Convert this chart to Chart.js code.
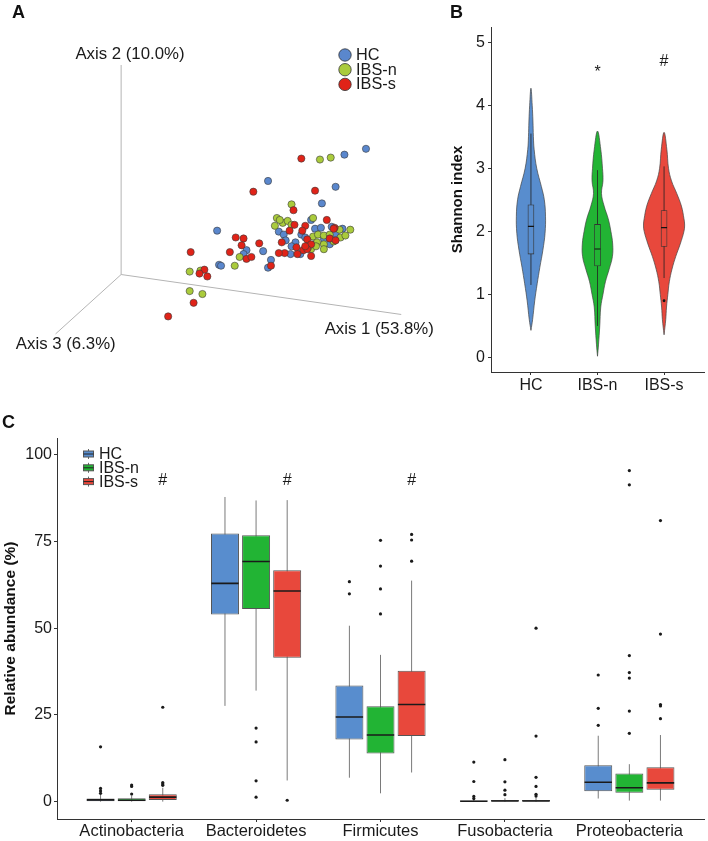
<!DOCTYPE html>
<html>
<head>
<meta charset="utf-8">
<script src="https://cdn.jsdelivr.net/npm/chart.js@4.4.0/dist/chart.umd.min.js"></script>
<style>
  body { margin: 0; background: #fff; }
  #quadro { position: relative; width: 708px; height: 841px; overflow: hidden; font-family: "Liberation Sans", Arial, sans-serif; }
  canvas { position: absolute; }
  .letra { position: absolute; font-weight: bold; font-size: 18px; line-height: 18px; color: #111; }
</style>
</head>
<body>
<div id="quadro">
  <canvas id="pcoa" width="445" height="360" style="left:0;top:0"></canvas>
  <canvas id="shannon" width="318" height="400" style="left:390px;top:0"></canvas>
  <canvas id="filos" width="708" height="441" style="left:0;top:400px"></canvas>
  <div class="letra" style="left:12px;top:3px">A</div>
  <div class="letra" style="left:450px;top:3px">B</div>
  <div class="letra" style="left:2px;top:413px">C</div>
</div>
<script>
Chart.defaults.font.family = '"Liberation Sans", Arial, sans-serif';
Chart.defaults.color = '#1a1a1a';
Chart.defaults.animation = false;

const grupos = ['HC', 'IBS-n', 'IBS-s'];
const coresPCoA = ['#5a87cd', '#aacb3c', '#e02318'];
const cores = ['#588dce', '#22b434', '#e8483c'];

// A - PCoA, coordenadas projetadas (eixo 1 / eixo 2 na tela)
const pcoaHC = [[250,129],[228,123],[150,96],[219,90],[205,73],[194,56],[161,44],[166,41],[184,41],[198,47],
  [204,48],[215,49],[226,47],[168,35],[178,33],[188,38],[219,42],[213,31],[183,21],[173,21],[145,24],[153,15],
  [150,7],[98,45],[128,25],[125,21],[100,10],[102,9],[174,29],[207,37],[197,31]];
const pcoaIBSn = [[203,118],[214,120],[174,72],[159,58],[157,50],[165,53],[170,55],[174,51],[196,58],[196,39],
  [201,41],[207,40],[213,41],[223,46],[234,46],[224,38],[200,33],[207,31],[194,26],[207,26],[121,18],[116,9],
  [70,3],[81,4],[70,-17],[83,-20],[191,28],[217,34],[229,40],[199,29],[162,56]];
const pcoaIBSs = [[184,119],[135,85],[198,86],[176,66],[210,56],[177,51],[172,45],[188,50],[185,45],[218,48],
  [164,33],[190,36],[194,31],[213,37],[219,35],[179,28],[186,25],[190,26],[180,21],[194,19],[167,22],[161,22],
  [153,9],[117,38],[125,37],[123,30],[141,32],[128,16],[133,18],[111,23],[71,23],[85,5],[80,1],[88,-2],[74,-29],
  [48,-43],[217,47],[188,29]];
const eixosNomes = ['Axis 1 (53.8%)', 'Axis 2 (10.0%)', 'Axis 3 (6.3%)'];
const eixosFim = [[286,-41],[0,215],[-67,-61]];

// B - Shannon: violino (valor, meia largura) e caixa
const violinoHC = [[0.43,0],[0.6,0.025],[0.9,0.057],[1.17,0.094],[1.43,0.134],[1.7,0.179],[1.97,0.212],[2.24,0.219],
  [2.5,0.201],[2.71,0.157],[3.0,0.087],[3.3,0.048],[3.5,0.037],[3.75,0.03],[4.0,0.019],[4.27,0]];
const violinoIBSn = [[0.02,0],[0.2,0.015],[0.5,0.034],[0.8,0.049],[1.0,0.082],[1.2,0.119],[1.4,0.175],[1.6,0.224],
  [1.8,0.228],[2.0,0.201],[2.2,0.161],[2.4,0.1],[2.6,0.06],[2.8,0.082],[3.0,0.075],[3.3,0.049],[3.59,0]];
const violinoIBSs = [[0.36,0],[0.6,0.025],[0.8,0.037],[1.0,0.057],[1.2,0.079],[1.4,0.119],[1.6,0.175],[1.8,0.243],
  [2.0,0.299],[2.1,0.309],[2.2,0.299],[2.4,0.261],[2.6,0.191],[2.8,0.112],[3.0,0.067],[3.3,0.042],[3.57,0]];
const shannonQ1 = [1.64, 1.45, 1.76];
const shannonMed = [2.08, 1.72, 2.06];
const shannonQ3 = [2.42, 2.11, 2.33];
const shannonMin = [1.15, 0.5, 1.26];
const shannonMax = [3.55, 2.97, 3.03];
const shannonOut = [[], [], [0.9]];
const shannonSig = ['', '*', '#'];
const shannonSigY = [null, 4.52, 4.69];
const shannonTicks = [0, 1, 2, 3, 4, 5];

// C - abundância relativa por filo
const filos = ['Actinobacteria', 'Bacteroidetes', 'Firmicutes', 'Fusobacteria', 'Proteobacteria'];
const hcQ1  = [0.1, 53.9, 17.9, 0.0, 3.0];
const hcMed = [0.5, 62.9, 24.4, 0.1, 5.6];
const hcQ3  = [0.9, 77.3, 33.5, 0.3, 10.5];
const hcMin = [0.0, 27.6, 6.9, 0.0, 0.9];
const hcMax = [2.0, 87.8, 50.7, 0.6, 19.0];
const hcOut = [[15.8,3.8,3.1,2.4], [], [63.4,59.9], [11.4,5.8,1.5,0.9], [36.5,26.9,22.0]];

const ibsnQ1  = [0.1, 55.5, 13.9, 0.0, 2.6];
const ibsnMed = [0.4, 69.2, 19.2, 0.2, 4.0];
const ibsnQ3  = [1.0, 76.8, 27.5, 0.5, 8.1];
const ibsnMin = [0.0, 32.0, 2.4, 0.0, 0.3];
const ibsnMax = [1.8, 86.8, 42.3, 1.0, 10.8];
const ibsnOut = [[4.8,4.4,2.2], [21.2,17.2,6.0,1.3], [75.3,67.9,61.3,54.1], [12.1,5.7,3.3,2.0], [95.4,91.3,42.1,37.2,35.6,26.1,19.7]];

const ibssQ1  = [0.5, 41.5, 18.9, 0.0, 3.4];
const ibssMed = [1.3, 60.7, 28.0, 0.2, 5.4];
const ibssQ3  = [2.1, 66.7, 37.7, 0.5, 9.9];
const ibssMin = [0.0, 6.1, 8.4, 0.0, 0.3];
const ibssMax = [4.0, 86.9, 63.7, 1.2, 19.2];
const ibssOut = [[27.2,5.5,5.1,4.7], [0.4], [77.0,75.4,69.3], [50.0,18.9,7.0,4.4,2.1,1.6], [81.0,48.3,28.0,27.6,23.9]];

const filosSig = ['#', '#', '#', '', ''];
const filosSigY = 92.6;
const filosTicks = [0, 25, 50, 75, 100];

const fonte = '"Liberation Sans", Arial, sans-serif';

// ---------- A ----------
const textoA = {
  id: 'textoA',
  afterDraw(chart) {
    const {ctx, scales: {x, y}} = chart;
    ctx.save();
    ctx.font = '16.8px ' + fonte;
    ctx.fillStyle = '#1a1a1a';
    ctx.textBaseline = 'middle';
    ctx.textAlign = 'center';
    ctx.fillText(eixosNomes[1], x.getPixelForValue(9), y.getPixelForValue(226));
    ctx.fillText(eixosNomes[0], x.getPixelForValue(263.5), y.getPixelForValue(-56));
    ctx.textAlign = 'left';
    ctx.fillText(eixosNomes[2], x.getPixelForValue(-107.5), y.getPixelForValue(-71.5));
    // legenda
    ctx.font = '16.3px ' + fonte;
    grupos.forEach((g, i) => {
      const ly = 55 + i * 14.7;
      ctx.beginPath();
      ctx.arc(345, ly, 6.2, 0, Math.PI * 2);
      ctx.fillStyle = coresPCoA[i];
      ctx.fill();
      ctx.strokeStyle = '#333';
      ctx.lineWidth = 0.8;
      ctx.stroke();
      ctx.fillStyle = '#1a1a1a';
      ctx.fillText(g, 356, ly + 0.5);
    });
    ctx.restore();
  }
};

const dsA = eixosFim.map(f => ({
  type: 'line', data: [{x: 0, y: 0}, {x: f[0], y: f[1]}],
  borderColor: '#b4b4b4', borderWidth: 1, pointRadius: 0, order: 5
}));
[pcoaHC, pcoaIBSn, pcoaIBSs].forEach((pts, g) => {
  dsA.push({
    type: 'scatter', label: grupos[g], data: pts.map(p => ({x: p[0], y: p[1]})),
    pointRadius: 3.6, pointBackgroundColor: coresPCoA[g], pointBorderColor: '#3a3a3a', pointBorderWidth: 0.6,
    order: 2 - g
  });
});

new Chart(document.getElementById('pcoa'), {
  type: 'scatter',
  data: {datasets: dsA},
  options: {
    responsive: false,
    layout: {padding: 0},
    plugins: {legend: {display: false}, tooltip: {enabled: false}},
    scales: {
      x: {type: 'linear', min: -119, max: 326, display: false},
      y: {type: 'linear', min: -83, max: 277, display: false}
    }
  },
  plugins: [textoA]
});

// ---------- B ----------
const dsB = [];
[violinoHC, violinoIBSn, violinoIBSs].forEach((v, g) => {
  const c = g + 1;
  const esq = v.map(p => ({x: c - p[1], y: p[0]}));
  const dir = v.slice(0, -1).reverse().map(p => ({x: c + p[1], y: p[0]}));
  dsB.push({
    type: 'line', data: esq.concat(dir), fill: 'shape', tension: 0.4,
    backgroundColor: cores[g], borderColor: '#444', borderWidth: 0.7, pointRadius: 0, order: 4
  });
});
dsB.push({
  type: 'line', order: 3, borderColor: '#222', borderWidth: 0.8, pointRadius: 0,
  data: grupos.flatMap((g, i) => [{x: i + 1, y: shannonMin[i]}, {x: i + 1, y: shannonMax[i]}, {x: i + 1, y: null}])
});
dsB.push({
  type: 'bar', order: 2, barThickness: 6, borderSkipped: false,
  backgroundColor: cores, borderColor: '#333', borderWidth: 0.8,
  data: grupos.map((g, i) => ({x: i + 1, y: [shannonQ1[i], shannonQ3[i]]}))
});
dsB.push({
  type: 'line', order: 1, borderColor: '#111', borderWidth: 1.2, pointRadius: 0,
  data: grupos.flatMap((g, i) => [{x: i + 1 - 0.045, y: shannonMed[i]}, {x: i + 1 + 0.045, y: shannonMed[i]}, {x: i + 1, y: null}])
});
dsB.push({
  type: 'scatter', order: 0, pointRadius: 1.4, pointBackgroundColor: '#111', pointBorderWidth: 0,
  data: grupos.flatMap((g, i) => shannonOut[i].map(v => ({x: i + 1, y: v})))
});

const sinaisB = {
  id: 'sinaisB',
  afterDraw(chart) {
    const {ctx, scales: {x, y}} = chart;
    ctx.save();
    ctx.font = '16px ' + fonte;
    ctx.fillStyle = '#1a1a1a';
    ctx.textAlign = 'center';
    ctx.textBaseline = 'middle';
    shannonSig.forEach((s, i) => {
      if (s) ctx.fillText(s, x.getPixelForValue(i + 1), y.getPixelForValue(shannonSigY[i]));
    });
    ctx.restore();
  }
};

const eixoBase = {
  border: {display: true, color: '#333', width: 1},
  grid: {display: true, drawOnChartArea: false, drawTicks: true, tickLength: 3, color: '#333'}
};

new Chart(document.getElementById('shannon'), {
  type: 'bar',
  data: {datasets: dsB},
  options: {
    responsive: false,
    layout: {padding: {top: 27, right: 4, left: 0, bottom: 0}},
    plugins: {legend: {display: false}, tooltip: {enabled: false}},
    scales: {
      x: {
        ...eixoBase, type: 'linear', min: 0.4, max: 3.6, offset: false,
        grid: {...eixoBase.grid, offset: false},
        afterBuildTicks: s => { s.ticks = grupos.map((g, i) => ({value: i + 1})); },
        afterFit: s => { s.height = 28; },
        ticks: {autoSkip: false, maxRotation: 0, padding: 1, font: {size: 16}, callback: v => grupos[v - 1]}
      },
      y: {
        ...eixoBase, type: 'linear', min: -0.23, max: 5.24,
        afterBuildTicks: s => { s.ticks = shannonTicks.map(v => ({value: v})); },
        afterFit: s => { s.width = 101; },
        ticks: {padding: 3, font: {size: 16}},
        title: {display: true, text: 'Shannon index', font: {size: 15, weight: 'bold'}, color: '#111', padding: {top: 59, bottom: 0}}
      }
    }
  },
  plugins: [sinaisB]
});

// ---------- C ----------
const caixas = [
  {q1: hcQ1, med: hcMed, q3: hcQ3, min: hcMin, max: hcMax, out: hcOut},
  {q1: ibsnQ1, med: ibsnMed, q3: ibsnQ3, min: ibsnMin, max: ibsnMax, out: ibsnOut},
  {q1: ibssQ1, med: ibssMed, q3: ibssQ3, min: ibssMin, max: ibssMax, out: ibssOut}
];
const desloc = g => (g - 1) * 0.25;
const dsC = [];
caixas.forEach((c, g) => {
  dsC.push({
    type: 'bar', label: grupos[g], order: 2, categoryPercentage: 0.75, barPercentage: 0.9,
    backgroundColor: cores[g], borderColor: '#555', borderWidth: 1, borderSkipped: false,
    data: filos.map((f, i) => ({x: i + 1, y: [c.q1[i], c.q3[i]]}))
  });
  // bigodes
  dsC.push({
    type: 'line', order: 3, borderColor: '#7a7a7a', borderWidth: 1, pointRadius: 0,
    data: filos.flatMap((f, i) => {
      const px = i + 1 + desloc(g);
      return [{x: px, y: c.min[i]}, {x: px, y: c.max[i]}, {x: px, y: null}];
    })
  });
  // mediana
  dsC.push({
    type: 'line', order: 1, borderColor: '#1a1a1a', borderWidth: 1.6, pointRadius: 0,
    data: filos.flatMap((f, i) => {
      const px = i + 1 + desloc(g);
      return [{x: px - 0.11, y: c.med[i]}, {x: px + 0.11, y: c.med[i]}, {x: px, y: null}];
    })
  });
  // outliers
  dsC.push({
    type: 'scatter', order: 0, pointRadius: 1.6, pointBackgroundColor: '#1a1a1a', pointBorderWidth: 0,
    data: filos.flatMap((f, i) => c.out[i].map(v => ({x: i + 1 + desloc(g), y: v})))
  });
});

const extrasC = {
  id: 'extrasC',
  afterDraw(chart) {
    const {ctx, scales: {x, y}} = chart;
    ctx.save();
    ctx.font = '16px ' + fonte;
    ctx.fillStyle = '#1a1a1a';
    ctx.textAlign = 'center';
    ctx.textBaseline = 'middle';
    filosSig.forEach((s, i) => {
      if (s) ctx.fillText(s, x.getPixelForValue(i + 1 + desloc(2)), y.getPixelForValue(filosSigY));
    });
    // legenda com ícone de caixa
    ctx.textAlign = 'left';
    grupos.forEach((g, i) => {
      const ly = 54 + i * 13.8;
      ctx.strokeStyle = '#666';
      ctx.lineWidth = 1;
      ctx.beginPath();
      ctx.moveTo(88.5, ly - 5); ctx.lineTo(88.5, ly + 5);
      ctx.stroke();
      ctx.fillStyle = cores[i];
      ctx.fillRect(83.5, ly - 3, 10, 6);
      ctx.strokeStyle = '#555';
      ctx.strokeRect(83.5, ly - 3, 10, 6);
      ctx.strokeStyle = '#222';
      ctx.beginPath();
      ctx.moveTo(83.5, ly); ctx.lineTo(93.5, ly);
      ctx.stroke();
      ctx.fillStyle = '#1a1a1a';
      ctx.fillText(g, 99, ly + 0.5);
    });
    ctx.restore();
  }
};

new Chart(document.getElementById('filos'), {
  type: 'bar',
  data: {datasets: dsC},
  options: {
    responsive: false,
    layout: {padding: {top: 38, right: 4, left: 0, bottom: 0}},
    plugins: {legend: {display: false}, tooltip: {enabled: false}},
    scales: {
      x: {
        ...eixoBase, type: 'linear', min: 0.4, max: 5.6, offset: false,
        grid: {...eixoBase.grid, offset: false},
        afterBuildTicks: s => { s.ticks = filos.map((f, i) => ({value: i + 1})); },
        afterFit: s => { s.height = 22; },
        ticks: {autoSkip: false, maxRotation: 0, padding: 0, font: {size: 16.5}, callback: v => filos[v - 1]}
      },
      y: {
        ...eixoBase, type: 'linear', min: -5, max: 104.8,
        afterBuildTicks: s => { s.ticks = filosTicks.map(v => ({value: v})); },
        afterFit: s => { s.width = 57; },
        ticks: {padding: 2, font: {size: 16}},
        title: {display: true, text: 'Relative abundance (%)', font: {size: 15.5, weight: 'bold'}, color: '#111', padding: {top: 1, bottom: 0}}
      }
    }
  },
  plugins: [extrasC]
});
</script>
</body>
</html>
